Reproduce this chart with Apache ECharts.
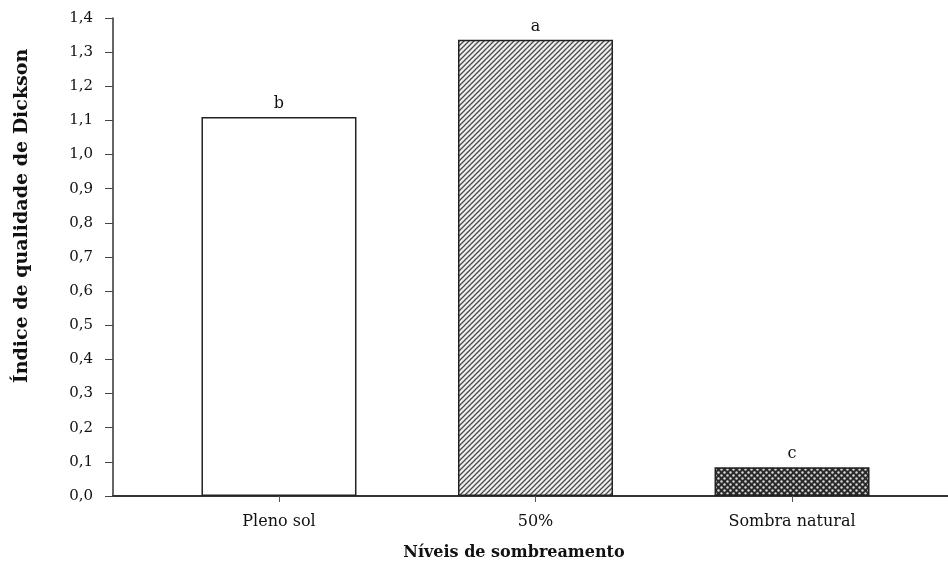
<!DOCTYPE html>
<html>
<head>
<meta charset="utf-8">
<script src="https://cdn.jsdelivr.net/npm/echarts@6/dist/echarts.min.js"></script>
<style>html,body{margin:0;padding:0;background:#fff}#c{width:948px;height:567px}</style>
</head>
<body>
<div id="c"></div>
<script>
const categories = ['Pleno sol', '50%', 'Sombra natural'];
const values = [1.11, 1.336, 0.084];
const letters = ['b', 'a', 'c'];
const yTitle = 'Índice de qualidade de Dickson';
const xTitle = 'Níveis de sombreamento';

function hatch() {
  const c = document.createElement('canvas');
  c.width = 5; c.height = 5;
  const g = c.getContext('2d');
  g.fillStyle = '#f0f0f0'; g.fillRect(0, 0, 5, 5);
  g.strokeStyle = '#4a4a4a'; g.lineWidth = 1.3;
  g.beginPath();
  g.moveTo(-1, 6); g.lineTo(6, -1);
  g.moveTo(-1, 1); g.lineTo(1, -1);
  g.moveTo(4, 6); g.lineTo(6, 4);
  g.stroke();
  return c;
}
function dots() {
  const c = document.createElement('canvas');
  c.width = 6; c.height = 6;
  const g = c.getContext('2d');
  g.fillStyle = '#2a2a2a'; g.fillRect(0, 0, 6, 6);
  g.fillStyle = '#d8d8d8';
  g.beginPath(); g.arc(1.5, 1.5, 1.2, 0, Math.PI * 2); g.fill();
  g.beginPath(); g.arc(4.5, 4.5, 1.2, 0, Math.PI * 2); g.fill();
  return c;
}
const fills = ['#ffffff', { image: hatch(), repeat: 'repeat' }, { image: dots(), repeat: 'repeat' }];

const chart = echarts.init(document.getElementById('c'), null, { renderer: 'canvas' });
const font = 'DejaVu Serif';
chart.setOption({
  animation: false,
  grid: { left: 113, right: 0, top: 18, bottom: 71 },
  xAxis: {
    type: 'value', min: -0.647, max: 2.608,
    splitLine: { show: false },
    axisLine: { show: true, onZero: false, lineStyle: { color: '#333', width: 2 } },
    axisTick: { show: true, customValues: [0, 1, 2], length: 6, lineStyle: { color: '#555' } },
    axisLabel: {
      customValues: [0, 1, 2], margin: 18,
      formatter: v => categories[Math.round(v)],
      fontFamily: font, fontSize: 16, color: '#111'
    }
  },
  yAxis: {
    type: 'value', min: 0, max: 1.4, interval: 0.1,
    splitLine: { show: false },
    axisLine: { show: true, onZero: false, lineStyle: { color: '#333', width: 1.5 } },
    axisTick: { show: true, length: 8, lineStyle: { color: '#444' } },
    axisLabel: {
      margin: 20, fontFamily: font, fontSize: 15, color: '#111',
      formatter: v => v.toFixed(1).replace('.', ',')
    }
  },
  series: [{
    type: 'bar',
    barWidth: 155,
    data: values.map((v, i) => ({
      value: [i, v],
      itemStyle: { color: fills[i], borderColor: '#222', borderWidth: 1.5 }
    })),
    label: {
      show: true, position: 'top', distance: 5,
      formatter: p => letters[p.dataIndex],
      fontFamily: font, fontSize: 16, color: '#111'
    }
  }],
  graphic: [
    {
      type: 'text', x: 22, y: 216, rotation: Math.PI / 2,
      style: {
        text: yTitle, x: 0, y: 0, align: 'center', verticalAlign: 'middle',
        font: 'bold 19px "DejaVu Serif"', fill: '#111'
      }
    },
    {
      type: 'text', x: 514, y: 553,
      style: {
        text: xTitle, x: 0, y: 0, align: 'center', verticalAlign: 'middle',
        font: 'bold 16px "DejaVu Serif"', fill: '#111'
      }
    }
  ]
});
</script>
</body>
</html>
